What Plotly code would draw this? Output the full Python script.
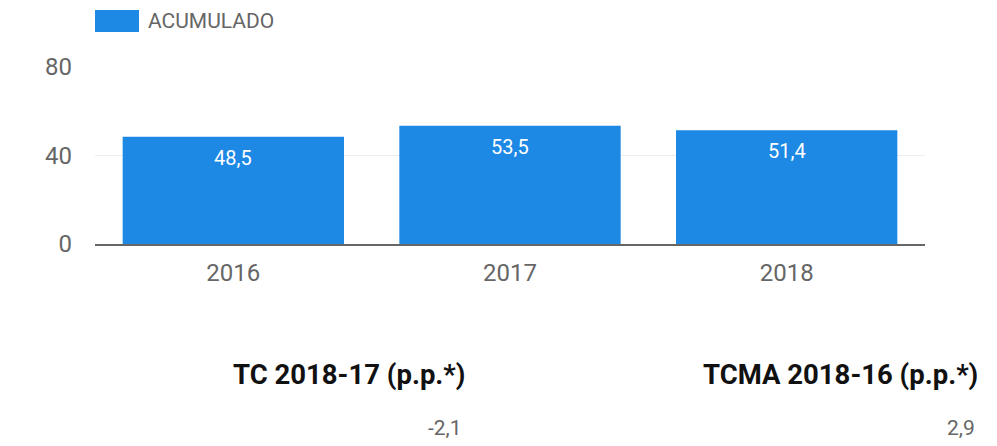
import plotly.graph_objects as go

anios = ["2016", "2017", "2018"]
acumulado = [48.5, 53.5, 51.4]
y_ticks = [0, 40, 80]
indicadores = ["TC 2018-17 (p.p.*)", "TCMA 2018-16 (p.p.*)"]
indicador_valores = ["-2,1", "2,9"]

AZUL = "#1e88e5"
GRIS = "#666666"
FUENTE = "Roboto"

# la página añade 8px de margen al body: se compensa aquí
OFF = 8
L, T = 95 - OFF, 67 - OFF
PW, PH = 830, 177  # área de trazado

fig = go.Figure()
fig.add_trace(
    go.Bar(
        x=anios,
        y=acumulado,
        name="ACUMULADO",
        marker_color=AZUL,
        marker_line_width=0,
        width=0.8,
        showlegend=False,
    )
)

# etiquetas de valor dentro de cada barra (x como índice de categoría)
for i, valor in enumerate(acumulado):
    fig.add_annotation(
        x=i, y=valor, text=f"{valor:.1f}".replace(".", ","),
        yanchor="top", yshift=-7, showarrow=False,
        font=dict(family=FUENTE, size=20, color="white"),
    )

# leyenda dibujada a mano (cuadro grande como en el original)
fig.add_shape(
    type="rect", xref="paper", yref="paper",
    x0=0, x1=44 / PW, y0=1 + 35 / PH, y1=1 + 57 / PH,
    fillcolor=AZUL, line_width=0,
)
fig.add_annotation(
    text="ACUMULADO", xref="paper", yref="paper",
    x=51 / PW, y=1 + 46 / PH, xanchor="left", yanchor="middle",
    showarrow=False, font=dict(family=FUENTE, size=21, color=GRIS),
)

# indicadores inferiores
posiciones_x = [(467 - 95) / PW, (980 - 95) / PW]
for nombre, valor, px in zip(indicadores, indicador_valores, posiciones_x):
    fig.add_annotation(
        text="<b>" + nombre + "</b>", xref="paper", yref="paper",
        x=px, y=-(374 - 244) / PH, xanchor="right", yanchor="middle",
        showarrow=False, font=dict(family=FUENTE, size=27.5, color="#111111"),
    )
    fig.add_annotation(
        text=valor, xref="paper", yref="paper",
        x=px - 3 / PW, y=-(428 - 244) / PH, xanchor="right", yanchor="middle",
        showarrow=False, font=dict(family=FUENTE, size=21, color=GRIS),
    )

# borde tenue a la derecha
fig.add_shape(
    type="line", xref="paper", yref="paper",
    x0=(995 - 95) / PW, x1=(995 - 95) / PW, y0=-202 / PH, y1=1 + 67 / PH,
    line=dict(color="#eeeeee", width=3),
)

fig.update_layout(
    width=997 - OFF,
    height=446 - OFF,
    margin=dict(l=L, r=997 - OFF - L - PW, t=T, b=446 - OFF - T - PH),
    paper_bgcolor="white",
    plot_bgcolor="white",
    separators=",.",
    bargap=0.2,
    font=dict(family=FUENTE, color=GRIS),
    xaxis=dict(
        type="category",
        range=[-0.5, len(anios) - 0.5],
        showgrid=False,
        showline=True,
        linecolor=GRIS,
        linewidth=2,
        ticks="",
        ticklabelstandoff=6,
        tickfont=dict(size=24, color=GRIS),
    ),
    yaxis=dict(
        range=[0, 80],
        tickvals=y_ticks,
        showgrid=True,
        gridcolor="#ededed",
        gridwidth=1,
        zeroline=False,
        ticks="",
        ticklen=0,
        ticklabelstandoff=22,
        tickfont=dict(size=24, color=GRIS),
    ),
)

fig.write_html("out.html")
